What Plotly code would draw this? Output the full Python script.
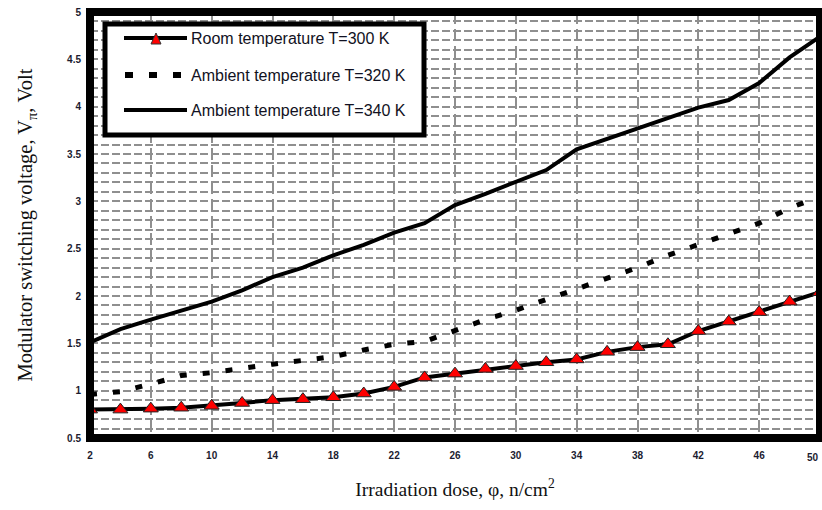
import plotly.graph_objects as go

# ---------------- data ----------------
dose = [2, 4, 6, 8, 10, 12, 14, 16, 18, 20, 22, 24, 26, 28, 30, 32, 34, 36, 38, 40, 42, 44, 46, 48, 50]
v_300 = [0.80, 0.80, 0.81, 0.82, 0.84, 0.87, 0.90, 0.91, 0.93, 0.97, 1.04, 1.14, 1.18,
         1.23, 1.26, 1.30, 1.33, 1.41, 1.46, 1.49, 1.63, 1.73, 1.83, 1.94, 2.04]
v_320 = [0.96, 0.99, 1.07, 1.16, 1.19, 1.24, 1.28, 1.32, 1.36, 1.43, 1.49, 1.52, 1.64,
         1.75, 1.85, 1.96, 2.07, 2.19, 2.30, 2.43, 2.54, 2.66, 2.77, 2.93, 3.05]
v_340 = [1.51, 1.65, 1.75, 1.85, 1.94, 2.06, 2.20, 2.30, 2.43, 2.54, 2.67, 2.77, 2.96,
         3.08, 3.20, 3.33, 3.55, 3.66, 3.78, 3.88, 3.99, 4.07, 4.25, 4.52, 4.74]
series_names = ["Room temperature T=300 K",
                "Ambient temperature T=320 K",
                "Ambient temperature T=340 K"]
x_ticks = [2, 6, 10, 14, 18, 22, 26, 30, 34, 38, 42, 46, 50]
y_ticks = [0.5, 1, 1.5, 2, 2.5, 3, 3.5, 4, 4.5, 5]

# ---------------- layout geometry ----------------
W, H = 822, 510
L, R, T, B = 90, 2, 12, 72
PW, PH = W - L - R, H - T - B


def px(xp):
    return (xp - L) / PW


def py(yp):
    return (H - B - yp) / PH


fig = go.Figure()

fig.add_trace(go.Scatter(
    x=dose, y=v_340, mode="lines", name=series_names[2],
    line=dict(color="black", width=4), showlegend=False))
fig.add_trace(go.Scatter(
    x=dose, y=v_320, mode="lines", name=series_names[1],
    line=dict(color="black", width=5, dash="7px,16px"), showlegend=False))
fig.add_trace(go.Scatter(
    x=dose, y=v_300, mode="lines+markers", name=series_names[0],
    line=dict(color="black", width=4),
    marker=dict(symbol="triangle-up", size=13, color="#ff0000",
                line=dict(color="#222222", width=1)),
    showlegend=False))

grid_col = "#8f8f8f"
tick_font = dict(family="Liberation Sans, Arial", size=10, color="#1c1c30", weight="bold")

fig.update_xaxes(
    range=[2, 50], tickmode="array", tickvals=x_ticks[:-1],
    ticktext=[str(v) for v in x_ticks[:-1]],
    showgrid=True, gridcolor=grid_col, gridwidth=1.6, griddash="12px,5px",
    zeroline=False, showline=False, ticks="", ticklabelstandoff=10,
    tickfont=tick_font, automargin=False,
    title=dict(text="Irradiation dose, φ, n/cm<sup>2</sup>",
               font=dict(family="Liberation Serif, Times New Roman, serif", size=19.5, color="#111111"),
               standoff=22),
)
fig.update_yaxes(
    range=[0.5, 5], tickmode="array", tickvals=y_ticks,
    ticktext=[f"{v:g}" for v in y_ticks],
    showgrid=True, gridcolor=grid_col, gridwidth=1.6, griddash="8px,3px",
    minor=dict(dtick=0.1, tick0=0.5, showgrid=True, gridcolor=grid_col,
               gridwidth=1.6, griddash="8px,3px"),
    zeroline=False, showline=False, ticks="", ticklabelstandoff=8,
    tickfont=tick_font, automargin=False,
    title=dict(text="Modulator switching voltage, V<sub>π</sub>, Volt",
               font=dict(family="Liberation Serif, Times New Roman, serif", size=20.5, color="#111111"),
               standoff=28),
)

shapes = []
# thick frame around the plot area
shapes.append(dict(type="rect", xref="paper", yref="paper", x0=0, x1=1, y0=0, y1=1,
                   line=dict(color="black", width=8), layer="above"))
# legend box
shapes.append(dict(type="rect", xref="paper", yref="paper",
                   x0=px(105), x1=px(424), y0=py(135), y1=py(24),
                   fillcolor="white", line=dict(color="black", width=5), layer="above"))
row_y = [38, 75, 110]
x_a, x_b = 124, 187
shapes.append(dict(type="line", xref="paper", yref="paper", x0=px(x_a), x1=px(x_b),
                   y0=py(row_y[0]), y1=py(row_y[0]), line=dict(color="black", width=4), layer="above"))
shapes.append(dict(type="line", xref="paper", yref="paper", x0=px(x_a + 1), x1=px(x_b),
                   y0=py(row_y[1]), y1=py(row_y[1]),
                   line=dict(color="black", width=6, dash="8px,16px"), layer="above"))
shapes.append(dict(type="line", xref="paper", yref="paper", x0=px(x_a), x1=px(x_b),
                   y0=py(row_y[2]), y1=py(row_y[2]), line=dict(color="black", width=4), layer="above"))
# triangle marker in first legend row
cx, cy = 156, row_y[0] + 1
tri = (f"M {px(cx - 5)},{py(cy + 5)} L {px(cx + 5)},{py(cy + 5)} "
       f"L {px(cx)},{py(cy - 6)} Z")
shapes.append(dict(type="path", xref="paper", yref="paper", path=tri,
                   fillcolor="#ff0000", line=dict(color="#333333", width=1), layer="above"))

annotations = []
for name, ry in zip(series_names, row_y):
    annotations.append(dict(
        text=name, xref="paper", yref="paper", x=px(189), y=py(ry),
        xanchor="left", yanchor="middle", showarrow=False,
        font=dict(family="Liberation Sans, Arial", size=16, color="#111122")))
# last x tick label, kept just inside the page's right edge
annotations.append(dict(
    text=str(x_ticks[-1]), xref="paper", yref="paper", x=px(W - 1), y=py(457),
    xanchor="right", yanchor="middle", showarrow=False, font=tick_font))

fig.update_layout(
    width=W, height=H,
    margin=dict(l=L, r=R, t=T, b=B, pad=0),
    paper_bgcolor="white", plot_bgcolor="white",
    shapes=shapes, annotations=annotations,
    showlegend=False,
)

fig.write_html("out.html")
